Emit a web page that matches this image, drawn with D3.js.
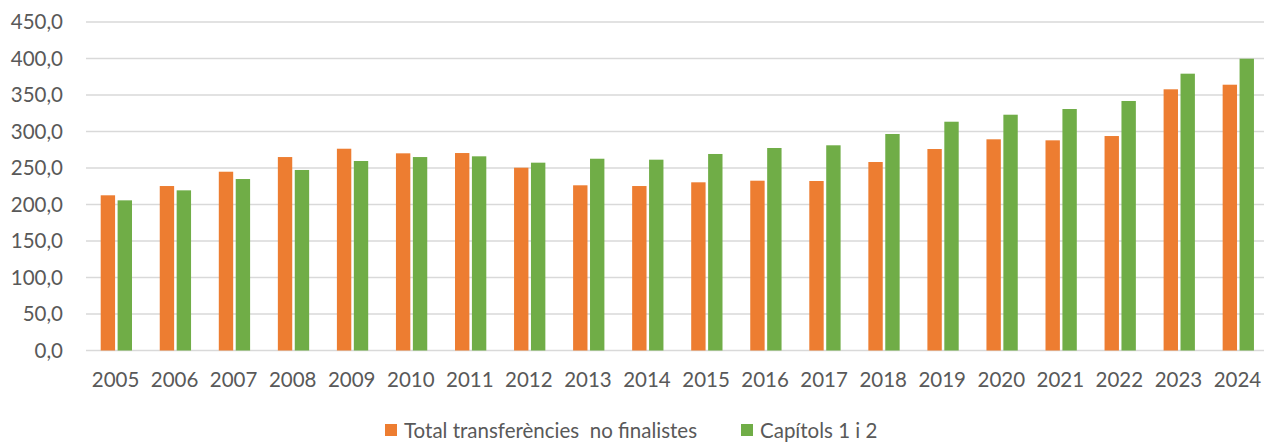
<!DOCTYPE html>
<html>
<head>
<meta charset="utf-8">
<script src="https://cdnjs.cloudflare.com/ajax/libs/d3/7.8.5/d3.min.js"></script>
<style>
    body { margin: 0; background: #fff; }
    text { font-family: Lato, "Open Sans", sans-serif; fill: #595959; }
</style>
</head>
<body>
<div id="vis"></div>
<script>
// Data
var years = ["2005", "2006", "2007", "2008", "2009", "2010", "2011", "2012", "2013", "2014",
             "2015", "2016", "2017", "2018", "2019", "2020", "2021", "2022", "2023", "2024"];
var transferencies = [212.6, 225.3, 244.9, 265.0, 276.4, 270.1, 270.5, 250.4, 226.3, 225.3,
                      230.4, 232.6, 232.2, 258.2, 276.0, 289.3, 287.9, 293.8, 357.8, 364.1];
var capitols = [205.7, 219.4, 234.9, 247.3, 259.6, 265.0, 266.0, 257.3, 262.7, 261.4,
                269.2, 277.4, 281.1, 296.6, 313.4, 323.0, 330.8, 341.8, 379.2, 399.7];
var yTicks = [0, 50, 100, 150, 200, 250, 300, 350, 400, 450];
var seriesNames = ["Total transferències  no finalistes", "Capítols 1 i 2"];
var seriesColors = ["#ED7D31", "#70AD47"];

(function() {
    // Set global variables (width, height, etc.)
    var width = 1264,
        height = 445,
        margin = { top: 22, right: -3, bottom: 94.5, left: 86 },
        fontSize = "20.5px";

    var svg = d3.select("#vis").append("svg")
        .attr("width", width)
        .attr("height", height);

    var x = d3.scaleBand()
        .domain(years)
        .range([margin.left, width - margin.right])
        .padding(0);

    // Position of the two bars inside each year band
    var xInner = d3.scaleBand()
        .domain([0, 1])
        .range([14.7, 46])
        .paddingInner(0.15);

    var y = d3.scaleLinear()
        .domain([0, 450])
        .range([height - margin.bottom, margin.top]);

    // Gridlines
    svg.append("g")
        .selectAll("line")
        .data(yTicks)
        .enter().append("line")
        .attr("x1", margin.left)
        .attr("x2", width)
        .attr("y1", function(d) { return y(d); })
        .attr("y2", function(d) { return y(d); })
        .attr("stroke", "#d9d9d9")
        .attr("stroke-width", 1.3);

    // Y axis labels
    var fmt = function(d) { return d3.format(".1f")(d).replace(".", ","); };
    svg.append("g")
        .attr("transform", "translate(63,0)")
        .call(d3.axisLeft(y).tickValues(yTicks).tickSize(0).tickPadding(0).tickFormat(fmt))
        .call(function(g) { g.select(".domain").remove(); })
        .selectAll("text")
        .style("font-size", fontSize)
        .attr("font-family", null)
        .attr("fill", "#595959");

    // Bars
    var series = [transferencies, capitols];
    series.forEach(function(vals, s) {
        svg.append("g")
            .attr("fill", seriesColors[s])
            .selectAll("rect")
            .data(vals)
            .enter().append("rect")
            .attr("x", function(d, i) { return x(years[i]) + xInner(s); })
            .attr("width", xInner.bandwidth())
            .attr("y", function(d) { return y(d); })
            .attr("height", function(d) { return y(0) - y(d); });
    });

    // X axis labels
    svg.append("g")
        .attr("transform", "translate(0," + y(0) + ")")
        .call(d3.axisBottom(x).tickSize(0).tickPadding(22))
        .call(function(g) { g.select(".domain").remove(); })
        .selectAll("text")
        .style("font-size", fontSize)
        .attr("font-family", null)
        .attr("fill", "#595959");

    // Legend
    var legendX = [385, 741];
    var legend = svg.append("g").attr("class", "legend");
    seriesNames.forEach(function(name, i) {
        legend.append("rect")
            .attr("x", legendX[i])
            .attr("y", 424)
            .attr("width", 12)
            .attr("height", 12)
            .attr("fill", seriesColors[i]);
        legend.append("text")
            .attr("x", legendX[i] + 19)
            .attr("y", 438)
            .style("font-size", fontSize)
            .style("white-space", "pre")
            .attr("xml:space", "preserve")
            .text(name);
    });
})();
</script>
</body>
</html>
